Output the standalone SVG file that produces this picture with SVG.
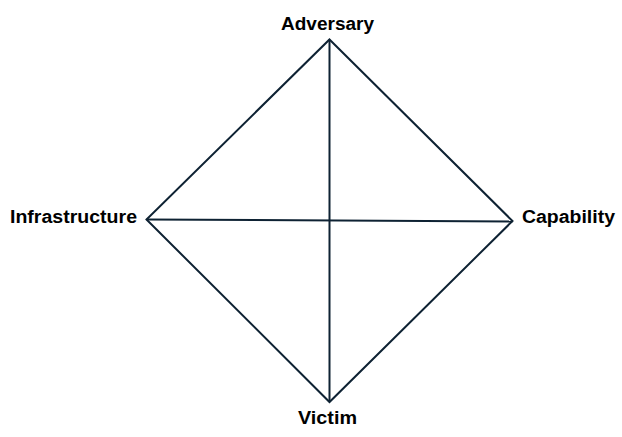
<svg xmlns="http://www.w3.org/2000/svg" width="622" height="437" viewBox="0 0 622 437">
<style>
.edge{stroke:#0e2233;stroke-width:2;fill:none;stroke-linejoin:miter}
.lbl{font-family:"Liberation Sans",Arial,sans-serif;font-weight:bold;font-size:18px;fill:#000}
</style>
<rect width="622" height="437" fill="#fff"/>
<g id="connectors">
<path class="edge" d="M329.5,39.5 L512.5,221 L329.5,402 L146.5,219.5 Z"/>
<line class="edge" x1="329.5" y1="39.5" x2="329.5" y2="402"/>
<line class="edge" x1="146.5" y1="219.5" x2="512.5" y2="221.5"/>
</g>
<g id="adversary"><text class="lbl" x="281" y="30" textLength="93" lengthAdjust="spacingAndGlyphs">Adversary</text></g>
<g id="infrastructure"><text class="lbl" x="10" y="223" textLength="127" lengthAdjust="spacingAndGlyphs">Infrastructure</text></g>
<g id="capability"><text class="lbl" x="522" y="223" textLength="93" lengthAdjust="spacingAndGlyphs">Capability</text></g>
<g id="victim"><text class="lbl" x="298" y="424" textLength="59" lengthAdjust="spacingAndGlyphs">Victim</text></g>
</svg>
